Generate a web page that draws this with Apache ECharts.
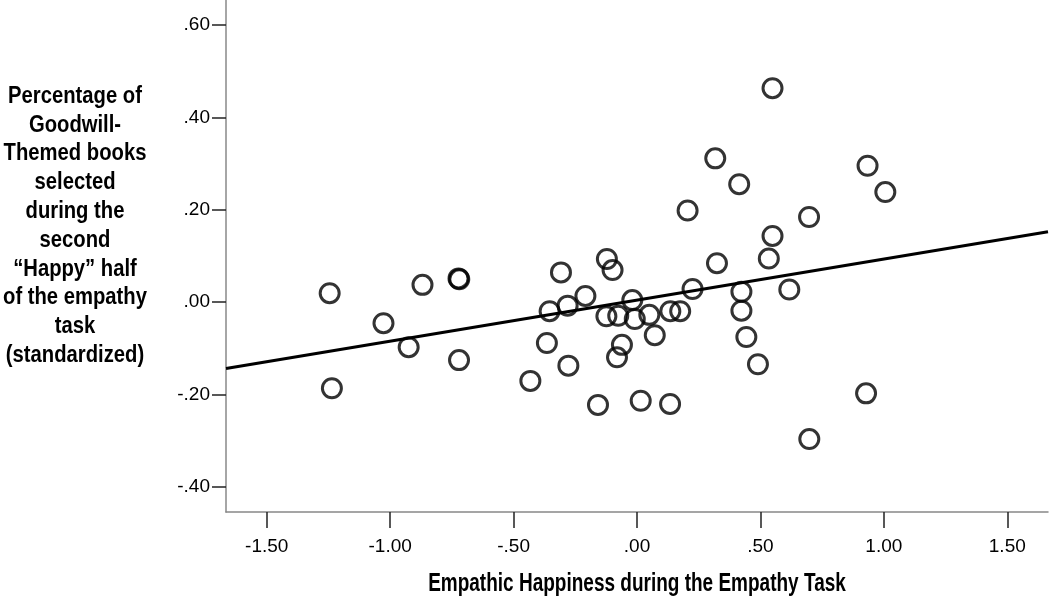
<!DOCTYPE html>
<html>
<head>
<meta charset="utf-8">
<title>Empathic Happiness scatter</title>
<script src="https://cdn.jsdelivr.net/npm/echarts@6/dist/echarts.min.js"></script>
<style>
  html, body { margin: 0; padding: 0; background: #fff; }
  #chart { width: 1050px; height: 599px; }
</style>
</head>
<body>
<div id="chart"></div>
<script>
// empathic happiness (x) and goodwill book share (y)
var happiness = [
  -1.245, -1.236, -1.027, -0.925, -0.869, -0.723, -0.720, -0.721,
  -0.432, -0.365, -0.354, -0.308, -0.281, -0.278, -0.209, -0.158,
  -0.122, -0.099, -0.124, -0.081, -0.061, -0.076, -0.019, -0.009,
  0.015, 0.050, 0.072, 0.134, 0.135, 0.175, 0.205, 0.225,
  0.317, 0.324, 0.414, 0.423, 0.423, 0.443, 0.490, 0.534,
  0.549, 0.549, 0.617, 0.697, 0.698, 0.928, 0.934, 1.006
]
var goodwill = [
  0.019, -0.187, -0.046, -0.098, 0.037, 0.051, 0.049, -0.126,
  -0.171, -0.089, -0.020, 0.064, -0.008, -0.138, 0.013, -0.223,
  0.093, 0.069, -0.031, -0.120, -0.093, -0.030, 0.004, -0.037,
  -0.214, -0.028, -0.072, -0.221, -0.020, -0.020, 0.198, 0.028,
  0.311, 0.084, 0.255, 0.022, -0.019, -0.076, -0.135, 0.094,
  0.143, 0.463, 0.027, 0.184, -0.297, -0.198, 0.295, 0.238
]
// fit line endpoints (at the plot edges)
var fitX = [-1.665, 1.665]
var fitY = [-0.144, 0.152]

var xTicks = [-1.5, -1, -0.5, 0, 0.5, 1, 1.5]
var yTicks = [-0.4, -0.2, 0, 0.2, 0.4, 0.6]

var yTitle = 'Percentage of\nGoodwill-\nThemed books\nselected\nduring the\nsecond\n\u201cHappy\u201d half\nof the empathy\ntask\n(standardized)'
var xTitle = 'Empathic Happiness during the Empathy Task'

var font = "'Liberation Sans', Arial, sans-serif"

function fmt(v) {
  var s = Math.abs(v).toFixed(2)
  if (s.charAt(0) === '0') s = s.slice(1)
  return (v < 0 ? '-' : '') + s
}

var points = happiness.map(function (x, i) { return [x, goodwill[i]] })
var fitLine = fitX.map(function (x, i) { return [x, fitY[i]] })

var chart = echarts.init(document.getElementById('chart'))
chart.setOption({
  animation: false,
  backgroundColor: '#fff',
  grid: {
    left: 226,
    right: 2,
    top: 0,
    bottom: 87
  },
  // titles are squeezed horizontally to look like the narrow bold face of the original
  graphic: [{
    type: 'text',
    x: 75,
    y: 226,
    scaleX: 0.88,
    style: {
      text: yTitle,
      x: 0,
      y: 0,
      align: 'center',
      verticalAlign: 'middle',
      fontFamily: font,
      fontWeight: 'bold',
      fontSize: 23,
      lineHeight: 28.8,
      fill: '#000'
    }
  }, {
    type: 'text',
    x: 637,
    y: 584,
    scaleX: 0.76,
    style: {
      text: xTitle,
      x: 0,
      y: 0,
      align: 'center',
      verticalAlign: 'middle',
      fontFamily: font,
      fontWeight: 'bold',
      fontSize: 25,
      fill: '#000'
    }
  }],
  xAxis: {
    type: 'value',
    min: -1.665,
    max: 1.665,
    splitLine: { show: false },
    axisLine: { onZero: false, lineStyle: { color: '#888', width: 1.5 } },
    axisTick: {
      customValues: xTicks,
      length: 16,
      lineStyle: { color: '#222', width: 1.5 }
    },
    axisLabel: {
      customValues: xTicks,
      formatter: fmt,
      margin: 25,
      fontFamily: font,
      fontSize: 19,
      color: '#000'
    }
  },
  yAxis: {
    type: 'value',
    min: -0.455,
    max: 0.654,
    splitLine: { show: false },
    axisLine: { show: true, onZero: false, lineStyle: { color: '#888', width: 1.5 } },
    axisTick: {
      show: true,
      customValues: yTicks,
      length: 14,
      lineStyle: { color: '#222', width: 1.5 }
    },
    axisLabel: {
      customValues: yTicks,
      formatter: fmt,
      margin: 16,
      fontFamily: font,
      fontSize: 19,
      color: '#000'
    }
  },
  series: [
    {
      type: 'scatter',
      data: points,
      symbol: 'circle',
      symbolSize: 19,
      itemStyle: {
        color: 'rgba(255,255,255,0)',
        borderColor: '#000',
        borderWidth: 3
      }
    },
    {
      type: 'line',
      data: fitLine,
      symbol: 'none',
      lineStyle: { color: '#000', width: 3 },
      z: 3
    }
  ]
})
</script>
</body>
</html>
